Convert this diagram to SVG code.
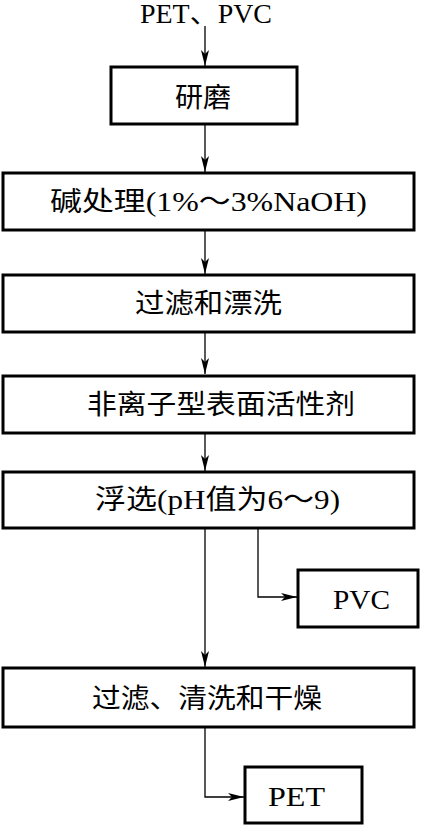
<svg xmlns="http://www.w3.org/2000/svg" width="421" height="826" viewBox="0 0 421 826">
<style>
.box{fill:#fff;stroke:#000;stroke-width:3}
.t{font-family:"Liberation Serif","Noto Sans CJK SC",serif;font-size:27px;fill:#000}
.c{stroke:#000;stroke-width:1.3;fill:none}
</style>
<defs>
<marker id="ah" viewBox="0 0 16 10" refX="16" refY="5" markerWidth="16" markerHeight="10" markerUnits="userSpaceOnUse" orient="auto">
<path d="M0,1 L16,5 L0,9 L4,5 Z" fill="#000"/>
</marker>
</defs>
<rect width="421" height="826" fill="#fff"/>
<g id="connectors">
<path class="c" d="M205,26 V66" marker-end="url(#ah)"/>
<path class="c" d="M205,125 V172" marker-end="url(#ah)"/>
<path class="c" d="M205,230 V274" marker-end="url(#ah)"/>
<path class="c" d="M205,332 V374" marker-end="url(#ah)"/>
<path class="c" d="M205,433 V471" marker-end="url(#ah)"/>
<path class="c" d="M205,528 V667" marker-end="url(#ah)"/>
<path class="c" d="M258,528 V597 H297" marker-end="url(#ah)"/>
<path class="c" d="M205,727 V797 H244" marker-end="url(#ah)"/>
</g>
<g id="input"><text class="t" x="140" y="23" textLength="132" lengthAdjust="spacingAndGlyphs">PET、PVC</text></g>
<g id="n1"><rect class="box" x="111" y="67" width="186" height="57"/><text class="t" x="175" y="107" textLength="56" lengthAdjust="spacingAndGlyphs">研磨</text></g>
<g id="n2"><rect class="box" x="3" y="173" width="411" height="57"/><text class="t" x="50" y="211" textLength="317" lengthAdjust="spacingAndGlyphs">碱处理(1%～3%NaOH)</text></g>
<g id="n3"><rect class="box" x="3" y="275" width="411" height="57"/><text class="t" x="135" y="313" textLength="147" lengthAdjust="spacingAndGlyphs">过滤和漂洗</text></g>
<g id="n4"><rect class="box" x="3" y="376" width="411" height="57"/><text class="t" x="87" y="414" textLength="268" lengthAdjust="spacingAndGlyphs">非离子型表面活性剂</text></g>
<g id="n5"><rect class="box" x="3" y="472" width="411" height="56"/><text class="t" x="95" y="509" textLength="245" lengthAdjust="spacingAndGlyphs">浮选(pH值为6～9)</text></g>
<g id="n6"><rect class="box" x="298" y="570" width="120" height="57"/><text class="t" x="333" y="609" textLength="57" lengthAdjust="spacingAndGlyphs">PVC</text></g>
<g id="n7"><rect class="box" x="3" y="668" width="411" height="59"/><text class="t" x="92" y="708" textLength="230" lengthAdjust="spacingAndGlyphs">过滤、清洗和干燥</text></g>
<g id="n8"><rect class="box" x="245" y="767" width="117" height="56"/><text class="t" x="268" y="806" textLength="57" lengthAdjust="spacingAndGlyphs">PET</text></g>
</svg>
